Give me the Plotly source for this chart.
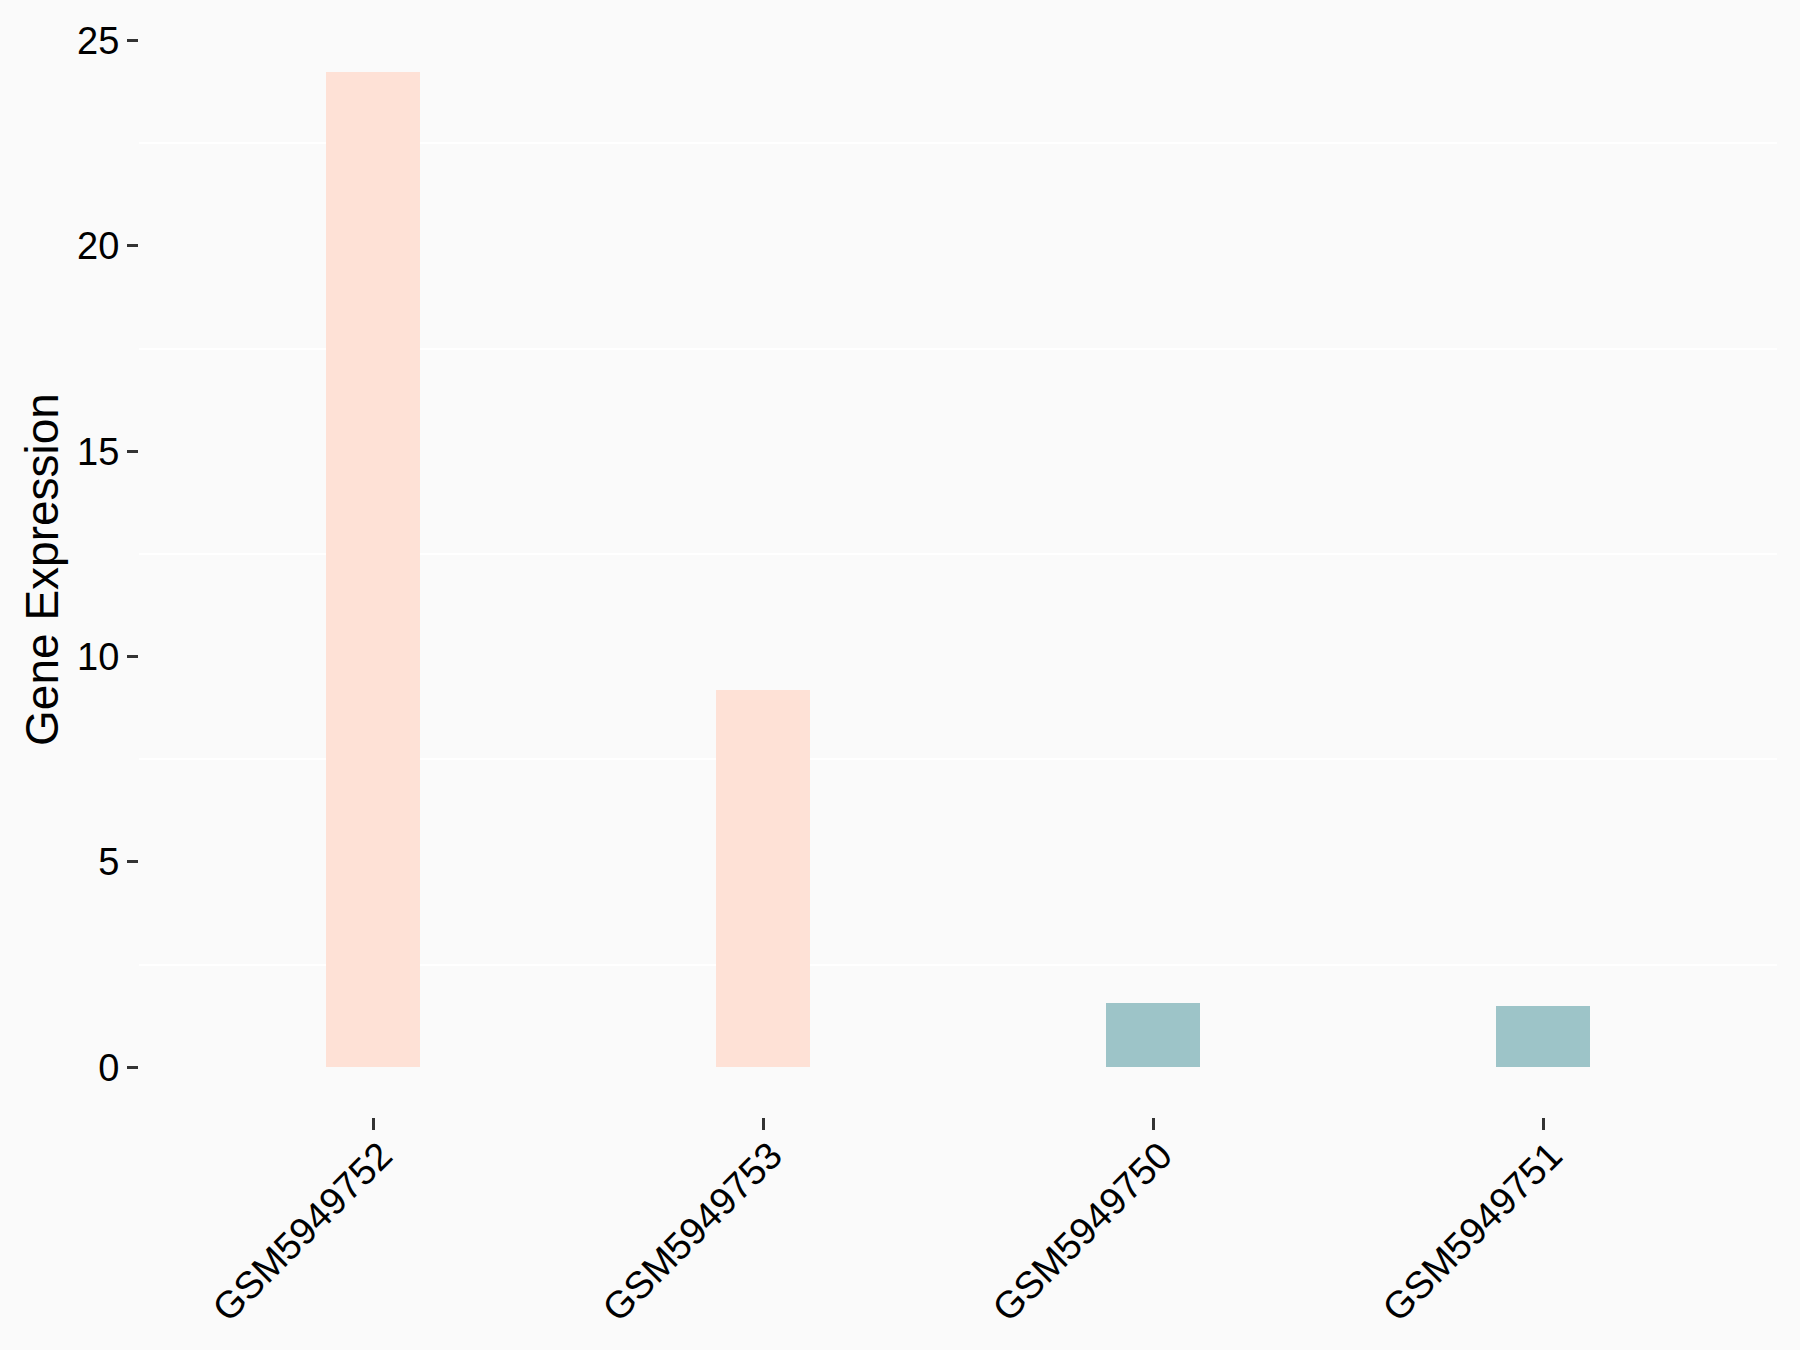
import plotly.graph_objects as go

# ---- data ----
samples = ["GSM5949752", "GSM5949753", "GSM5949750", "GSM5949751"]
expression = [24.24, 9.19, 1.57, 1.48]
groups = ["high", "high", "low", "low"]
group_colors = {"high": "#FEE1D6", "low": "#9DC4C8"}
y_tick_vals = [0, 5, 10, 15, 20, 25]
y_minor_grid = [2.5, 7.5, 12.5, 17.5, 22.5]

ymax = max(expression)
pad = 0.05 * ymax

fig = go.Figure(
    go.Bar(
        x=samples,
        y=expression,
        marker=dict(color=[group_colors[g] for g in groups], line=dict(width=0)),
        width=0.24,
        showlegend=False,
        hoverinfo="skip",
    )
)

font_family = "Liberation Sans, Arial, sans-serif"

fig.update_layout(
    width=1800,
    height=1350,
    autosize=False,
    margin=dict(l=139, r=23, t=22, b=233),
    paper_bgcolor="#FAFAFA",
    plot_bgcolor="#FAFAFA",
    font=dict(family=font_family, color="black", size=38),
    bargap=0,
)

fig.update_xaxes(
    type="category",
    categoryorder="array",
    categoryarray=samples,
    range=[-0.6, len(samples) - 1 + 0.6],
    showgrid=False,
    zeroline=False,
    showline=False,
    ticks="outside",
    ticklen=12,
    tickwidth=3,
    tickcolor="#333333",
    tickangle=-45,
    ticklabelstandoff=-12,
    ticklabelshift=8,
    tickfont=dict(size=38, color="black", family=font_family),
)

fig.update_yaxes(
    range=[-pad, ymax + pad],
    tickvals=y_tick_vals,
    showgrid=False,
    zeroline=False,
    showline=False,
    ticks="outside",
    ticklen=11,
    tickwidth=3,
    tickcolor="#333333",
    tickfont=dict(size=38, color="black", family=font_family),
    title=dict(text="Gene Expression", font=dict(size=46, color="black", family=font_family), standoff=4),
    minor=dict(tickvals=y_minor_grid, showgrid=True, gridcolor="#FFFFFF", gridwidth=2, ticks=""),
)

fig.write_html(
    "out.html",
    config={"displayModeBar": False, "staticPlot": True},
    post_script="document.body.style.margin='0';document.body.style.background='#FAFAFA';",
)
